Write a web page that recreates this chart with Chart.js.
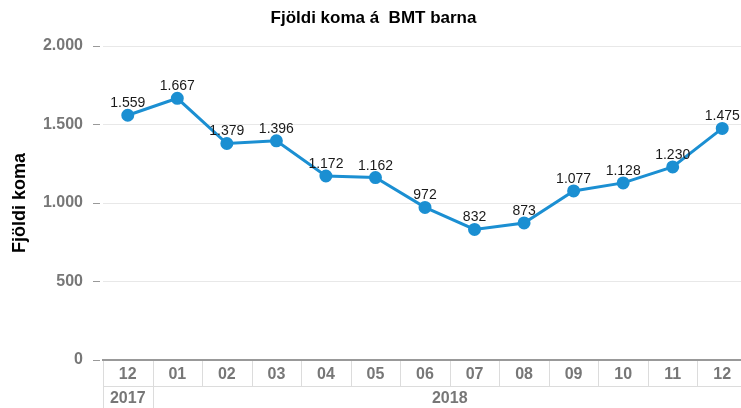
<!DOCTYPE html>
<html>
<head>
<meta charset="utf-8">
<script src="https://cdn.jsdelivr.net/npm/chart.js@4"></script>
<style>
  html, body { margin: 0; padding: 0; background: #fff; overflow: hidden; }
  #chart { display: block; }
</style>
</head>
<body>
<canvas id="chart" width="747" height="408"></canvas>
<script>
const months = ["12", "01", "02", "03", "04", "05", "06", "07", "08", "09", "10", "11", "12"];
const years = ["2017", "2018"];
const yearSpans = [1, 12];
const komur = [1559, 1667, 1379, 1396, 1172, 1162, 972, 832, 873, 1077, 1128, 1230, 1475];
const yTicks = [0, 500, 1000, 1500, 2000];

const FONT = "Arial, 'Liberation Sans', sans-serif";

function fmt(n) {
  return String(n).replace(/\B(?=(\d{3})+(?!\d))/g, ".");
}

// draws the value above each point
const valueLabels = {
  id: "valueLabels",
  afterDatasetsDraw(chart) {
    const ctx = chart.ctx;
    const meta = chart.getDatasetMeta(0);
    ctx.save();
    ctx.font = "14px " + FONT;
    ctx.fillStyle = "#1a1a1a";
    ctx.textAlign = "center";
    ctx.textBaseline = "alphabetic";
    meta.data.forEach((pt, i) => {
      ctx.fillText(fmt(komur[i]), pt.x, pt.y - 8);
    });
    ctx.restore();
  }
};

// category table under the x axis (month row + year row)
const catTable = {
  id: "catTable",
  afterDraw(chart) {
    const ctx = chart.ctx;
    const x = chart.scales.x;
    const area = chart.chartArea;
    const top = area.bottom + 1;
    const mid = area.bottom + 26;
    const bot = chart.height;
    const step = x.getPixelForValue(1) - x.getPixelForValue(0);
    ctx.save();
    ctx.strokeStyle = "#dcdcdc";
    ctx.lineWidth = 1;
    ctx.beginPath();
    for (let i = 0; i <= months.length; i++) {
      const px = Math.round(x.getPixelForValue(i) - step / 2) + 0.5;
      ctx.moveTo(px, top);
      ctx.lineTo(px, mid);
    }
    ctx.moveTo(area.left, mid + 0.5);
    ctx.lineTo(area.right, mid + 0.5);
    let start = 0;
    ctx.font = "bold 16px " + FONT;
    ctx.fillStyle = "#777";
    ctx.textAlign = "center";
    ctx.textBaseline = "middle";
    years.forEach((yr, k) => {
      const l = x.getPixelForValue(start) - step / 2;
      const r = x.getPixelForValue(start + yearSpans[k] - 1) + step / 2;
      const pl = Math.round(l) + 0.5;
      ctx.moveTo(pl, mid);
      ctx.lineTo(pl, bot);
      ctx.fillText(yr, (l + r) / 2, mid + 13);
      start += yearSpans[k];
    });
    ctx.stroke();
    ctx.restore();
  }
};

new Chart(document.getElementById("chart").getContext("2d"), {
  type: "line",
  data: {
    labels: months,
    datasets: [{
      label: "Fjöldi koma",
      data: komur,
      borderColor: "#1b8fd2",
      backgroundColor: "#1b8fd2",
      borderWidth: 3,
      pointRadius: 5,
      pointHoverRadius: 5,
      tension: 0,
      fill: false
    }]
  },
  plugins: [valueLabels, catTable],
  options: {
    responsive: false,
    animation: false,
    devicePixelRatio: 1,
    layout: { autoPadding: false, padding: { left: 0, right: 0, top: 0, bottom: 0 } },
    plugins: {
      legend: { display: false },
      tooltip: { enabled: false },
      title: {
        display: true,
        text: "Fjöldi koma á  BMT barna",
        color: "#000",
        font: { family: FONT, size: 17, weight: "bold" },
        padding: { top: 8, bottom: 17.6 }
      }
    },
    scales: {
      x: {
        offset: true,
        grid: { display: false, drawTicks: false },
        border: { color: "#999", width: 2 },
        ticks: {
          color: "#777",
          font: { family: FONT, size: 16, weight: "bold" },
          padding: 5,
          maxRotation: 0,
          autoSkip: false
        },
        afterFit(s) { s.height = 48; }
      },
      y: {
        min: 0,
        max: 2000,
        afterBuildTicks(s) { s.ticks = yTicks.map(v => ({ value: v })); },
        grid: {
          color: "#e8e8e8",
          tickLength: 10,
          tickColor: "#999",
          tickBorderDash: [7, 3]
        },
        border: { display: false },
        ticks: {
          color: "#777",
          font: { family: FONT, size: 16, weight: "bold" },
          padding: 10,
          callback: v => fmt(v)
        },
        title: {
          display: true,
          text: "Fjöldi koma",
          color: "#000",
          font: { family: FONT, size: 18, weight: "bold" },
          padding: { top: 9, bottom: 8 }
        },
        afterFit(s) { s.width = 103; }
      }
    }
  }
});
</script>
</body>
</html>
